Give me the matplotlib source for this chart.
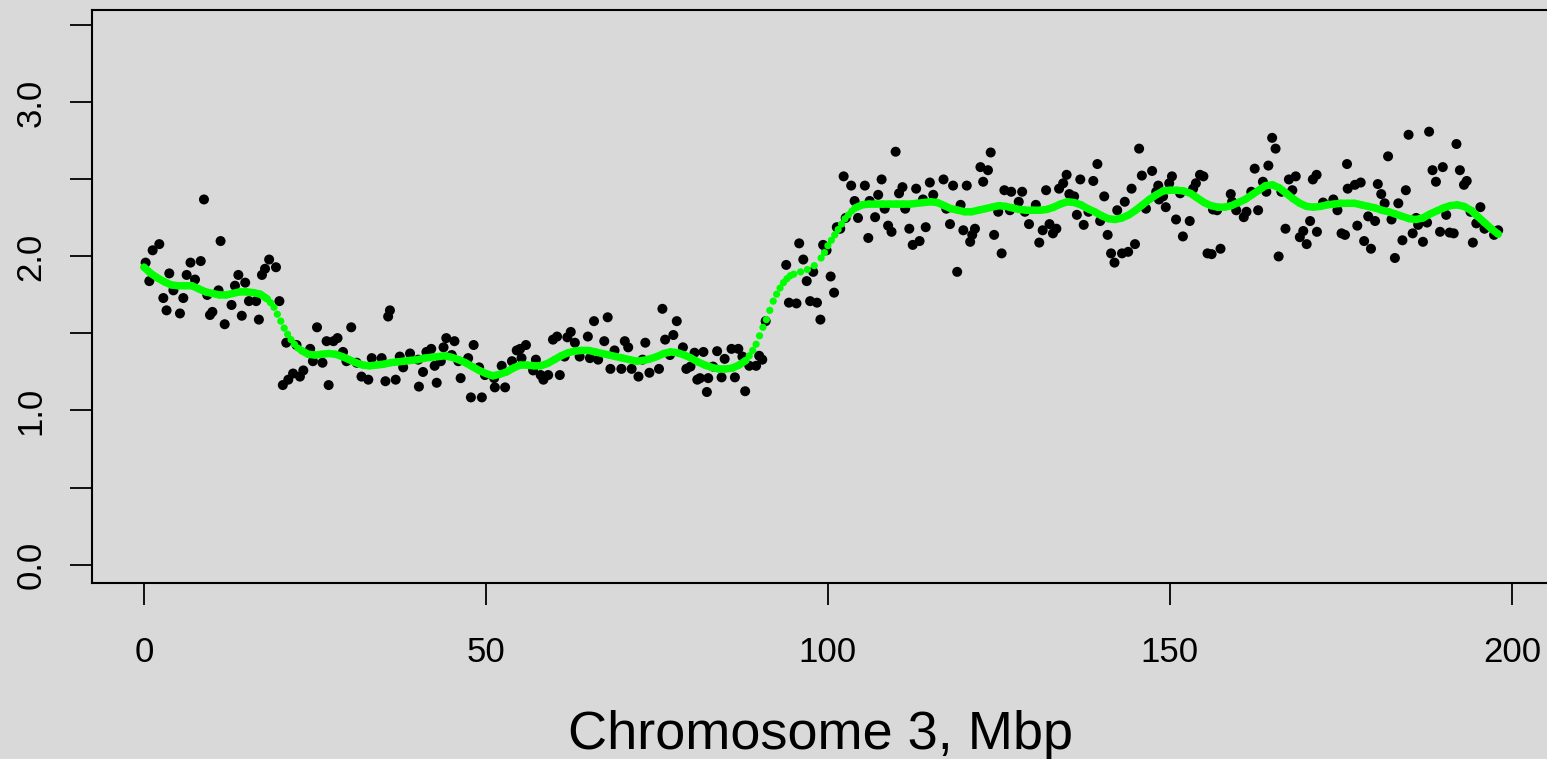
import matplotlib
matplotlib.use("Agg")
import matplotlib.pyplot as plt
import numpy as np

# ---- black points: (position Mbp, copy ratio), grouped by region ----
points_0_27 = [(8.77,2.37),(11.2,2.10),(2.24,2.08),(1.27,2.04),(0.24,1.96),(6.8,1.96),(8.3,1.97),
    (18.3,1.98),(17.7,1.92),(19.3,1.93),(17.25,1.88),(3.7,1.89),(6.24,1.88),(7.46,1.85),(13.8,1.88),
    (14.8,1.83),(13.3,1.81),(0.78,1.84),(4.3,1.78),(2.83,1.73),(5.75,1.73),(10.9,1.78),(9.25,1.75),
    (12.8,1.685),(15.35,1.71),(16.4,1.71),(19.8,1.71),(3.3,1.65),(5.26,1.63),(10.0,1.64),(9.65,1.62),
    (14.3,1.615),(16.8,1.59),(11.8,1.56),(20.8,1.44),(22.3,1.425),(25.3,1.54),(24.3,1.40),(26.7,1.45),
    (24.7,1.32),(26.1,1.31),(23.3,1.26),(21.8,1.24),(22.8,1.22),(21.1,1.20),(20.3,1.165),(27.0,1.165)]
points_28_55 = [(30.3,1.54),(35.96,1.65),(35.7,1.61),(28.3,1.47),(27.7,1.45),(29.1,1.38),(29.6,1.32),
    (31.1,1.31),(33.3,1.34),(34.75,1.34),(31.8,1.22),(32.8,1.20),(35.3,1.19),(36.8,1.20),(37.4,1.35),
    (37.9,1.28),(38.9,1.37),(40.1,1.33),(40.8,1.25),(40.2,1.155),(41.3,1.38),(42.0,1.40),(42.5,1.29),
    (42.8,1.18),(43.4,1.32),(43.8,1.41),(44.2,1.47),(45.4,1.45),(45.0,1.36),(45.96,1.32),(46.3,1.21),
    (47.4,1.34),(48.2,1.425),(49.0,1.28),(47.8,1.085),(49.4,1.085),(49.85,1.23),(51.3,1.15),(52.8,1.15),
    (52.3,1.29),(53.8,1.32),(54.5,1.39),(51.2,1.21)]
points_55_83 = [(55.0,1.40),(55.85,1.425),(55.2,1.34),(57.3,1.33),(56.9,1.26),(58.0,1.23),(58.4,1.20),
    (59.1,1.23),(60.8,1.23),(59.8,1.46),(60.4,1.48),(61.9,1.475),(62.4,1.51),(61.5,1.35),(63.0,1.44),
    (63.7,1.35),(64.9,1.48),(65.2,1.34),(65.8,1.58),(67.8,1.605),(66.4,1.33),(67.3,1.45),(68.2,1.27),
    (68.8,1.39),(69.8,1.27),(70.3,1.45),(70.8,1.41),(71.3,1.27),(72.3,1.22),(72.9,1.33),(73.3,1.44),
    (73.9,1.245),(75.3,1.27),(75.8,1.66),(76.2,1.46),(77.4,1.49),(77.9,1.58),(76.9,1.36),(78.8,1.41),
    (79.3,1.27),(79.9,1.285),(80.5,1.375),(81.8,1.38),(80.9,1.20),(82.3,1.12),(82.5,1.21)]
points_83_101 = [(93.9,1.945),(96.4,1.98),(97.85,1.90),(100.4,1.87),(96.9,1.84),(100.9,1.765),(94.3,1.70),
    (95.4,1.695),(97.4,1.71),(98.4,1.70),(98.9,1.59),(90.9,1.58),(83.8,1.385),(84.9,1.335),(85.9,1.40),
    (86.9,1.40),(87.5,1.35),(89.95,1.355),(90.4,1.33),(88.5,1.29),(89.5,1.29),(83.2,1.285),(84.45,1.215),
    (86.4,1.215),(87.9,1.125),(81.3,1.21)]
points_101_121 = [(109.9,2.68),(102.3,2.52),(103.4,2.46),(105.4,2.46),(107.85,2.50),(107.35,2.40),
    (110.9,2.45),(110.4,2.41),(112.9,2.44),(114.9,2.48),(116.9,2.50),(118.3,2.46),(120.3,2.46),(115.4,2.40),
    (113.9,2.37),(103.9,2.36),(106.1,2.36),(108.3,2.31),(111.3,2.31),(104.4,2.25),(106.9,2.255),(117.3,2.31),
    (119.4,2.335),(102.6,2.25),(108.8,2.20),(109.3,2.16),(111.9,2.18),(114.3,2.19),(117.85,2.21),(119.8,2.17),
    (112.4,2.075),(113.4,2.10),(105.9,2.12),(101.3,2.19),(101.8,2.18),(118.9,1.90),(95.8,2.085),(99.3,2.075),
    (99.8,2.04),(120.8,2.095)]
points_121_148 = [(123.8,2.675),(122.3,2.58),(123.4,2.56),(122.7,2.485),(125.8,2.43),(126.8,2.42),
    (128.4,2.42),(131.9,2.43),(133.8,2.44),(134.4,2.475),(134.9,2.53),(135.3,2.405),(136.0,2.39),(136.9,2.50),
    (138.8,2.49),(139.4,2.60),(140.4,2.39),(144.4,2.44),(145.9,2.525),(145.5,2.70),(147.4,2.555),(143.4,2.355),
    (148.0,2.42),(142.3,2.30),(146.5,2.31),(124.9,2.29),(126.6,2.30),(127.9,2.355),(128.8,2.29),(130.4,2.335),
    (129.4,2.21),(121.5,2.18),(121.1,2.14),(124.3,2.14),(125.4,2.02),(131.4,2.17),(132.4,2.21),(133.4,2.18),
    (132.9,2.15),(130.9,2.09),(136.4,2.27),(137.4,2.205),(138.1,2.29),(139.8,2.23),(140.9,2.14),(141.4,2.02),
    (141.9,1.96),(143.0,2.02),(143.9,2.03),(144.9,2.08),(148.4,2.37)]
points_148_176 = [(164.95,2.77),(165.45,2.70),(164.4,2.59),(162.4,2.57),(175.9,2.60),(150.3,2.52),
    (154.4,2.53),(154.9,2.52),(163.6,2.485),(167.4,2.50),(168.4,2.52),(171.45,2.53),(170.9,2.50),(148.3,2.46),
    (149.9,2.475),(153.8,2.475),(153.4,2.44),(149.0,2.39),(151.5,2.41),(158.9,2.405),(161.9,2.42),(164.1,2.42),
    (167.9,2.43),(166.3,2.42),(149.4,2.32),(156.3,2.305),(156.9,2.30),(159.1,2.355),(159.7,2.30),(161.2,2.29),
    (160.8,2.255),(162.9,2.30),(172.4,2.35),(173.9,2.37),(174.5,2.30),(150.9,2.24),(152.9,2.23),(151.9,2.13),
    (166.9,2.18),(170.5,2.23),(169.5,2.165),(171.5,2.16),(169.0,2.125),(170.0,2.08),(175.1,2.15),(175.6,2.14),
    (155.5,2.02),(156.1,2.015),(157.4,2.05),(165.9,2.00),(176.0,2.44)]
points_176_199 = [(184.9,2.79),(187.9,2.81),(191.9,2.73),(181.9,2.65),(188.4,2.56),(189.9,2.58),
    (192.4,2.56),(188.9,2.485),(193.4,2.49),(193.0,2.465),(177.05,2.465),(177.9,2.48),(180.4,2.47),(180.9,2.405),
    (184.5,2.43),(181.4,2.345),(183.4,2.345),(179.0,2.26),(180.0,2.23),(182.4,2.24),(186.0,2.25),(187.6,2.22),
    (186.3,2.205),(190.4,2.27),(193.96,2.29),(195.4,2.32),(194.8,2.215),(196.0,2.18),(198.0,2.17),(197.4,2.14),
    (177.4,2.20),(178.4,2.10),(179.4,2.05),(185.5,2.15),(184.0,2.105),(187.0,2.095),(189.5,2.16),(190.9,2.155),
    (191.5,2.15),(194.3,2.09),(182.9,1.99)]

# ---- green smooth curve, read at every 1 Mbp (0..198) ----
smooth_ratio = [1.93,1.89,1.86,1.835,1.815,1.81,1.81,1.81,1.79,1.77,
    1.76,1.75,1.75,1.76,1.77,1.77,1.765,1.755,1.725,1.67,
    1.58,1.495,1.43,1.39,1.365,1.36,1.365,1.37,1.365,1.35,
    1.33,1.31,1.295,1.29,1.295,1.30,1.31,1.315,1.32,1.325,
    1.33,1.34,1.345,1.35,1.355,1.345,1.33,1.31,1.285,1.26,
    1.24,1.225,1.235,1.25,1.275,1.295,1.295,1.29,1.29,1.305,
    1.33,1.355,1.375,1.385,1.39,1.39,1.38,1.37,1.36,1.35,
    1.34,1.33,1.32,1.325,1.335,1.35,1.37,1.38,1.375,1.36,
    1.34,1.315,1.295,1.28,1.27,1.27,1.275,1.295,1.325,1.39,
    1.485,1.59,1.71,1.795,1.855,1.885,1.90,1.915,1.94,1.99,
    2.07,2.14,2.21,2.27,2.315,2.335,2.34,2.34,2.34,2.34,
    2.34,2.34,2.34,2.345,2.35,2.355,2.35,2.33,2.31,2.30,
    2.29,2.29,2.30,2.31,2.32,2.33,2.325,2.315,2.305,2.30,
    2.30,2.30,2.305,2.32,2.34,2.355,2.35,2.335,2.31,2.29,
    2.265,2.245,2.24,2.25,2.27,2.30,2.335,2.37,2.40,2.425,
    2.43,2.43,2.425,2.41,2.38,2.35,2.33,2.32,2.32,2.33,
    2.35,2.37,2.40,2.43,2.46,2.465,2.445,2.41,2.375,2.345,
    2.325,2.32,2.325,2.335,2.34,2.345,2.345,2.345,2.335,2.325,
    2.315,2.30,2.29,2.275,2.26,2.245,2.24,2.25,2.275,2.295,
    2.315,2.33,2.335,2.325,2.30,2.26,2.22,2.18,2.145]
smooth_mbp = list(range(len(smooth_ratio)))
# extra readings on the steep parts, at half-Mbp positions
steep_mbp = [18.5,19.5,20.5,21.5,22.5,88.5,89.5,90.5,91.5,92.5,93.5,94.5,99.5,100.5,101.5,102.5,103.5]
steep_ratio = [1.70,1.625,1.535,1.46,1.405,1.355,1.43,1.54,1.65,1.755,1.83,1.875,2.025,2.105,2.175,2.245,2.295]
# stretches where the reference shows separate dots rather than a solid band
dotted_ranges = [(18, 23), (88, 104)]

x_ticks = [0, 50, 100, 150, 200]
y_ticks = [0.0, 0.5, 1.0, 1.5, 2.0, 2.5, 3.0, 3.5]
y_ticklabels = ["0.0", "", "1.0", "", "2.0", "", "3.0", ""]
x_label = "Chromosome 3, Mbp"

plt.rcParams["font.family"] = ["Liberation Sans", "DejaVu Sans"]
bg = "#d9d9d9"
green = "#00ff00"
W, H = 1547, 759
fig = plt.figure(figsize=(W / 100, H / 100), dpi=100, facecolor=bg)
ax = fig.add_axes([92 / W, (H - 583) / H, (1557 - 92) / W, (583 - 10) / H])
ax.set_facecolor(bg)

allpts = points_0_27 + points_28_55 + points_55_83 + points_83_101 + points_101_121 + \
    points_121_148 + points_148_176 + points_176_199
px = [p[0] for p in allpts]
py = [p[1] for p in allpts]
ax.scatter(px, py, s=52, c="black", edgecolors="none", zorder=2)

# solid band on flat parts
line_y = np.array(smooth_ratio, dtype=float)
mx = np.array(smooth_mbp, dtype=float)
for a, b in dotted_ranges:
    line_y[(mx > a) & (mx < b)] = np.nan
ax.plot(smooth_mbp, line_y, color=green, lw=5.4, solid_capstyle="round",
        solid_joinstyle="round", zorder=3)
# dots everywhere
gx = smooth_mbp + steep_mbp
gy = smooth_ratio + steep_ratio
ax.scatter(gx, gy, s=27, c=green, edgecolors="none", zorder=3)

ax.set_xlim(-7.6, 206.6)
ax.set_ylim(-0.12, 3.60)
ax.set_xticks(x_ticks)
ax.set_xticklabels([str(t) for t in x_ticks])
ax.set_yticks(y_ticks)
ax.set_yticklabels(y_ticklabels, rotation=90, va="center")

for s in ax.spines.values():
    s.set_linewidth(1.5)
    s.set_color("black")

ax.tick_params(axis="both", length=16, width=1.3, labelsize=25, colors="black")
ax.tick_params(axis="x", pad=22)
ax.tick_params(axis="y", pad=16)

fig.text(821 / W, 1 - 749 / H, x_label, ha="center", va="baseline", fontsize=39)

fig.savefig("out.png", dpi=100, facecolor=bg)
